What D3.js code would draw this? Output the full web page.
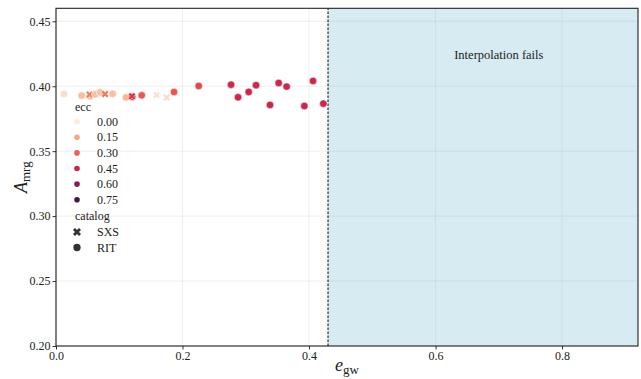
<!DOCTYPE html>
<html>
<head>
<meta charset="utf-8">
<script src="https://cdn.jsdelivr.net/npm/d3@7"></script>
<style>
  body { margin: 0; background: #fff; }
  text { font-family: "Liberation Serif", "DejaVu Serif", serif; fill: #222; }
</style>
</head>
<body>
<svg id="chart" width="641" height="379"></svg>
<script>
// values
const egw = [0.0126, 0.0405, 0.0538, 0.0530, 0.0620, 0.0696, 0.0775, 0.0896, 0.1107, 0.1205, 0.1200,
  0.1355, 0.1590, 0.1750, 0.1866, 0.2256, 0.2767, 0.2878, 0.3046, 0.3162, 0.3383, 0.3520, 0.3646,
  0.3926, 0.4063, 0.4226];
const amrg = [0.3940, 0.3928, 0.3922, 0.3936, 0.3938, 0.3953, 0.3940, 0.3942, 0.3914, 0.3918, 0.3923,
  0.3930, 0.3932, 0.3914, 0.3955, 0.4002, 0.4012, 0.3915, 0.3956, 0.4008, 0.3856, 0.4025, 0.3997,
  0.3848, 0.4041, 0.3866];
const ecc = [0.03, 0.10, 0.10, 0.24, 0.10, 0.09, 0.25, 0.10, 0.12, 0.38, 0.40,
  0.31, 0.02, 0.03, 0.32, 0.35, 0.44, 0.44, 0.44, 0.44, 0.45, 0.44, 0.44,
  0.45, 0.44, 0.44];
const catalog = ['RIT', 'RIT', 'RIT', 'SXS', 'RIT', 'RIT', 'SXS', 'RIT', 'RIT', 'RIT', 'SXS',
  'RIT', 'SXS', 'SXS', 'RIT', 'RIT', 'RIT', 'RIT', 'RIT', 'RIT', 'RIT', 'RIT', 'RIT',
  'RIT', 'RIT', 'RIT'];

const eccLevels = [0.00, 0.15, 0.30, 0.45, 0.60, 0.75];
const catalogLevels = ['SXS', 'RIT'];
const xTicks = [0.0, 0.2, 0.4, 0.6, 0.8];
const yTicks = [0.20, 0.25, 0.30, 0.35, 0.40, 0.45];
const failFrom = 0.43;
const failText = 'Interpolation fails';

// rocket colormap, sampled stops
const rocket = d3.interpolateRgbBasis(['#03051a', '#35193e', '#701f57', '#ad1759', '#e13342', '#f37651', '#f6b48f', '#faebdd']);
const hue = d3.scaleLinear().domain([0, 0.9]).range([1, 0]).clamp(true);
const colour = e => rocket(hue(e));

const svg = d3.select('#chart');
const margin = { left: 56, right: 3, top: 8.3, bottom: 33 };
const W = 641, H = 379;

const x = d3.scaleLinear().domain([0, 0.92]).range([margin.left, W - margin.right]);
const y = d3.scaleLinear().domain([0.2, 0.46]).range([H - margin.bottom, margin.top]);

// shaded region where interpolation fails
svg.append('rect')
  .attr('x', x(failFrom))
  .attr('y', y(0.46))
  .attr('width', x(0.92) - x(failFrom))
  .attr('height', y(0.2) - y(0.46))
  .attr('fill', '#add8e6')
  .attr('fill-opacity', 0.5);

// grid
const grid = svg.append('g').attr('stroke', '#b0b0b0').attr('stroke-opacity', 0.25).attr('stroke-width', 0.8);
grid.selectAll('.gx').data(xTicks).join('line')
  .attr('x1', d => x(d)).attr('x2', d => x(d))
  .attr('y1', y(0.2)).attr('y2', y(0.46));
grid.selectAll('.gy').data(yTicks).join('line')
  .attr('y1', d => y(d)).attr('y2', d => y(d))
  .attr('x1', x(0)).attr('x2', x(0.92));

svg.append('line')
  .attr('x1', x(failFrom)).attr('x2', x(failFrom))
  .attr('y1', y(0.2)).attr('y2', y(0.46))
  .attr('stroke', '#000').attr('stroke-width', 1)
  .attr('stroke-dasharray', '2.5,1.5');

svg.append('text')
  .attr('x', x(0.7)).attr('y', y(0.421))
  .attr('text-anchor', 'middle')
  .attr('font-size', 12.5)
  .text(failText);

// axes
const xAxis = svg.append('g')
  .attr('transform', `translate(0,${y(0.2)})`)
  .call(d3.axisBottom(x).tickValues(xTicks).tickFormat(d3.format('.1f')).tickSizeOuter(0).tickSize(3.5).tickPadding(2));
const yAxis = svg.append('g')
  .attr('transform', `translate(${x(0)},0)`)
  .call(d3.axisLeft(y).tickValues(yTicks).tickFormat(d3.format('.2f')).tickSizeOuter(0).tickSize(3.5).tickPadding(2));
[xAxis, yAxis].forEach(g => {
  g.select('.domain').remove();
  g.selectAll('text').attr('font-size', 12).attr('fill', '#222')
    .style('font-family', '"Liberation Serif", serif');
  g.selectAll('line').attr('stroke', '#333');
});

// frame
svg.append('rect')
  .attr('x', x(0)).attr('y', y(0.46))
  .attr('width', x(0.92) - x(0)).attr('height', y(0.2) - y(0.46))
  .attr('fill', 'none').attr('stroke', '#222').attr('stroke-width', 1.1);

// points
const pts = egw.map((e, i) => ({ e, a: amrg[i], ecc: ecc[i], cat: catalog[i] }));
const circle = d3.symbol().type(d3.symbolCircle).size(44);
const cross = d3.symbol().type(d3.symbolCross).size(36);

svg.append('g').selectAll('path').data(pts).join('path')
  .attr('d', d => (d.cat === 'SXS' ? cross() : circle()))
  .attr('transform', d => `translate(${x(d.e)},${y(d.a)})` + (d.cat === 'SXS' ? ' rotate(45)' : ''))
  .attr('fill', d => colour(d.ecc))
  .attr('stroke', '#fff')
  .attr('stroke-width', 0.5);

// legend
const leg = svg.append('g').attr('font-size', 12);
const legX = 77, labX = 97, row = 15.6;
leg.append('text').attr('x', 75).attr('y', 110.5).text('ecc');
eccLevels.forEach((v, i) => {
  const cy = 121.7 + i * row;
  leg.append('circle').attr('cx', legX).attr('cy', cy).attr('r', 2.8).attr('fill', colour(v));
  leg.append('text').attr('x', labX).attr('y', cy + 4).text(d3.format('.2f')(v));
});
leg.append('text').attr('x', 75).attr('y', 220).text('catalog');
catalogLevels.forEach((c, i) => {
  const cy = 232 + i * 15.5;
  leg.append('path')
    .attr('d', c === 'SXS' ? d3.symbol().type(d3.symbolCross).size(40)() : d3.symbol().type(d3.symbolCircle).size(42)())
    .attr('transform', `translate(${legX},${cy})` + (c === 'SXS' ? ' rotate(45)' : ''))
    .attr('fill', '#333');
  leg.append('text').attr('x', labX).attr('y', cy + 4).text(c);
});

// axis labels
const xl = svg.append('text')
  .attr('x', (x(0) + x(0.92)) / 2).attr('y', 371)
  .attr('text-anchor', 'middle');
xl.append('tspan').attr('font-style', 'italic').attr('font-size', 18).text('e');
xl.append('tspan').attr('font-size', 13).attr('dy', 3).text('gw');

const yl = svg.append('text')
  .attr('transform', `translate(27,${(y(0.2) + y(0.46)) / 2}) rotate(-90)`)
  .attr('text-anchor', 'middle');
yl.append('tspan').attr('font-style', 'italic').attr('font-size', 18).text('A');
yl.append('tspan').attr('font-size', 13).attr('dy', 3).text('mrg');
</script>
</body>
</html>
